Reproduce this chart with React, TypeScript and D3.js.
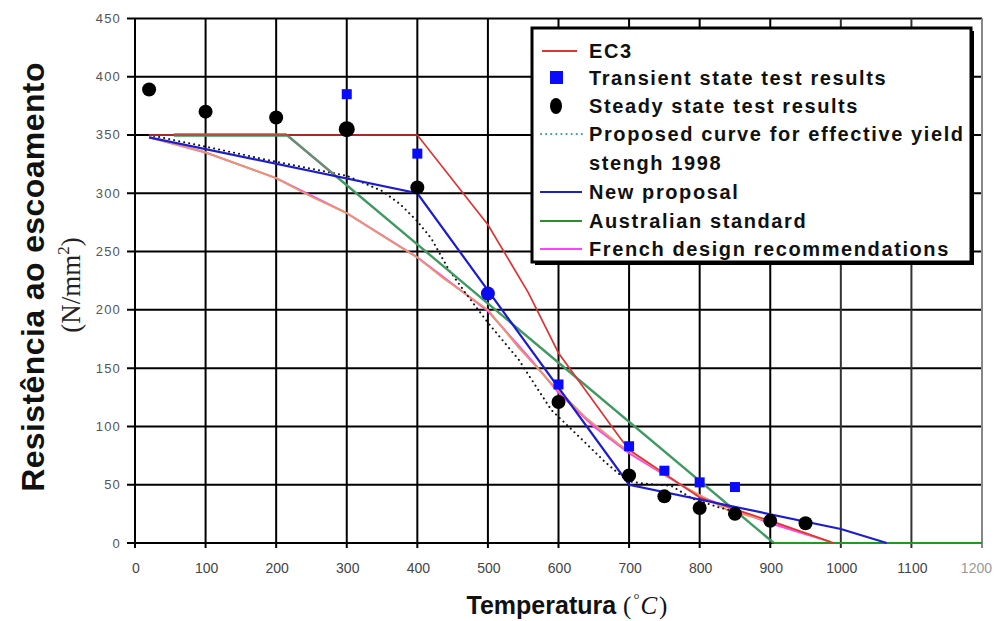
import React from "react";
import * as d3 from "d3";

// Axis ticks
const xTicks = [0, 100, 200, 300, 400, 500, 600, 700, 800, 900, 1000, 1100, 1200];
const yTicks = [0, 50, 100, 150, 200, 250, 300, 350, 400, 450];

// EC3
const ec3Temp = [20, 400, 500, 557, 600, 685, 700, 800, 900, 990];
const ec3Stress = [350, 350, 273, 215, 163, 92, 80, 39, 19, 0];

// Transient state test results
const transientTemp = [300, 400, 600, 700, 750, 800, 850];
const transientStress = [385, 334, 136, 83, 62, 52, 48];

// Steady state test results
const steadyTemp = [20, 100, 200, 300, 400, 600, 700, 750, 800, 850, 900, 950];
const steadyStress = [389, 370, 365, 355, 305, 121, 58, 40, 30, 25, 19, 17];
const steadyBlueTemp = [500];
const steadyBlueStress = [214];

// Proposed curve for effective yield strength 1998
const proposedTemp = [20, 100, 200, 300, 350, 375, 400, 420, 445, 470, 500, 544, 562, 590, 614, 638, 665, 698, 720, 760, 790, 830, 860];
const proposedStress = [350, 340, 327, 315, 302, 291, 276, 261, 234, 213, 189, 157, 140, 114, 100, 86, 70, 53, 51, 49, 38, 30, 26];

// New proposal
const newTemp = [20, 400, 700, 1000, 1065];
const newStress = [348, 300, 50, 12, 0];

// Australian standard
const ausTemp = [55, 215, 905, 1200];
const ausStress = [350, 350, 0, 0];

// French design recommendations
const frenchTemp = [20, 100, 200, 300, 400, 500, 560, 600, 650, 700, 800, 900, 985];
const frenchStress = [348, 335, 313, 283, 245, 199, 158, 129, 100, 77, 40, 17, 1];

// Additional reduction curve
const extraTemp = [20, 100, 200, 250, 300, 360, 400, 435, 500, 543, 590, 638, 685, 713, 770, 840, 910, 985];
const extraStress = [348, 335, 313, 297, 283, 260, 245, 228, 200, 168, 137, 108, 85, 74, 51, 28, 17, 1];

const legendLabels = [
  "EC3",
  "Transient state test results",
  "Steady state test results",
  "Proposed curve for effective yield",
  "stengh 1998",
  "New proposal",
  "Australian standard",
  "French design recommendations",
];

const W = 995;
const H = 621;
const sans = "'Liberation Sans', Arial, Helvetica, sans-serif";
const serif = "'Liberation Serif', 'Times New Roman', serif";

const x = d3.scaleLinear().domain([0, 1200]).range([135, 982]);
const y = d3.scaleLinear().domain([0, 450]).range([543, 18.4]);

const zip = (t: number[], s: number[]) => t.map((v, i) => [v, s[i]] as [number, number]);
const line = d3
  .line<[number, number]>()
  .x((d) => x(d[0]))
  .y((d) => y(d[1]));

export default function App() {
  const gridTop = y(450);
  const gridBottom = y(0);
  const legendX = 532;
  const legendY = 28;
  const legendW = 439;
  const legendH = 234;
  const rowY = [51, 78, 106, 134, 163, 192, 221, 249];
  const textX = 589;

  return (
    <svg
      width={W}
      height={H}
      viewBox={`0 0 ${W} ${H}`}
      style={{ position: "absolute", left: 0, top: 0, background: "#fff" }}
    >
      <rect x={0} y={0} width={W} height={H} fill="#fff" />

      {/* grid */}
      {yTicks.map((t) => (
        <line
          key={"h" + t}
          x1={x(0) - 8}
          x2={x(1200)}
          y1={y(t)}
          y2={y(t)}
          stroke="#000"
          strokeWidth={2}
        />
      ))}
      {xTicks.map((t) => (
        <line
          key={"v" + t}
          x1={x(t)}
          x2={x(t)}
          y1={gridTop}
          y2={gridBottom + 5}
          stroke={t === 1200 ? "#888" : t >= 1000 ? "#333" : "#000"}
          strokeWidth={2}
        />
      ))}

      {/* y tick labels */}
      {yTicks.map((t) => (
        <text
          key={"yl" + t}
          x={121}
          y={y(t) + 4.5}
          textAnchor="end"
          fontFamily={sans}
          fontSize={13}
          letterSpacing={1.2}
          fill="#555"
        >
          {t}
        </text>
      ))}

      {/* x tick labels */}
      {xTicks.map((t) => (
        <text
          key={"xl" + t}
          x={t === 1200 ? 992 : x(t) + 1}
          y={573}
          textAnchor={t === 1200 ? "end" : "middle"}
          fontFamily={sans}
          fontSize={14}
          fill={t === 1200 ? "#999" : "#444"}
        >
          {t}
        </text>
      ))}

      {/* axis titles */}
      <text
        x={567}
        y={614}
        textAnchor="middle"
        fontFamily={sans}
        fontSize={25}
        fontWeight="bold"
        fill="#111"
      >
        Temperatura{" "}
        <tspan fontFamily={serif} fontWeight="normal" fontSize={25}>
          (
        </tspan>
        <tspan fontFamily={serif} fontWeight="normal" fontSize={15} dx={2} dy={-10}>
          °
        </tspan>
        <tspan fontFamily={serif} fontWeight="normal" fontStyle="italic" fontSize={25} dx={1} dy={10}>
          C
        </tspan>
        <tspan fontFamily={serif} fontWeight="normal" fontSize={25} dx={2}>
          )
        </tspan>
      </text>

      <text
        transform="translate(44,277) rotate(-90)"
        textAnchor="middle"
        fontFamily={sans}
        fontSize={32}
        fontWeight="bold"
        letterSpacing={0.4}
        fill="#111"
      >
        Resistência ao escoamento
      </text>
      <text
        transform="translate(80,285) rotate(-90)"
        textAnchor="middle"
        fontFamily={serif}
        fontSize={27}
        fill="#222"
      >
        (N/mm
        <tspan fontSize={17} dy={-11}>
          2
        </tspan>
        <tspan dy={11}>)</tspan>
      </text>

      {/* curves */}
      <path d={line(zip(frenchTemp, frenchStress)) || ""} fill="none" stroke="#ff40ff" strokeWidth={2} />
      <path d={line(zip(extraTemp, extraStress)) || ""} fill="none" stroke="#e69a62" strokeWidth={1.8} />
      <path
        d={line(zip(proposedTemp, proposedStress)) || ""}
        fill="none"
        stroke="#111"
        strokeWidth={2}
        strokeDasharray="0.1 5"
        strokeLinecap="round"
      />
      <path d={line(zip(ausTemp.slice(0, 2), ausStress.slice(0, 2))) || ""} fill="none" stroke="#3a9a5c" strokeWidth={3.5} />
      <path d={line(zip(ausTemp.slice(1, 3), ausStress.slice(1, 3))) || ""} fill="none" stroke="#3f9a60" strokeWidth={2.4} />
      <path
        d={line([[ausTemp[1], ausStress[1]], [285, 350 * (905 - 285) / 690]]) || ""}
        fill="none"
        stroke="#808080"
        strokeWidth={1.6}
      />
      <path d={line(zip(ausTemp.slice(2), ausStress.slice(2))) || ""} fill="none" stroke="#1e9a1e" strokeWidth={2.2} />
      <path d={line(zip(ec3Temp, ec3Stress)) || ""} fill="none" stroke="#e03434" strokeWidth={1.7} />
      <path d={line(zip(newTemp, newStress)) || ""} fill="none" stroke="#1c1cd0" strokeWidth={2.2} />

      {/* steady state markers */}
      {zip(steadyTemp, steadyStress).map(([t, s], i) => (
        <circle key={"c" + i} cx={x(t)} cy={y(s)} r={t === 300 ? 8 : 7} fill="#000" />
      ))}
      {zip(steadyBlueTemp, steadyBlueStress).map(([t, s], i) => (
        <circle key={"cb" + i} cx={x(t)} cy={y(s)} r={7} fill="#0a0aee" />
      ))}

      {/* transient markers */}
      {zip(transientTemp, transientStress).map(([t, s], i) => (
        <rect key={"s" + i} x={x(t) - 5} y={y(s) - 5} width={10} height={10} fill="#0a0aff" />
      ))}

      {/* legend */}
      <rect x={legendX + 3} y={legendY + 3} width={legendW} height={legendH} fill="#000" />
      <rect x={legendX} y={legendY} width={legendW} height={legendH} fill="#fff" stroke="#000" strokeWidth={3} />
      <line x1={542} x2={577} y1={rowY[0]} y2={rowY[0]} stroke="#e03434" strokeWidth={2} />
      <rect x={550} y={rowY[1] - 7} width={13} height={13} fill="#0a0aff" />
      <ellipse cx={556} cy={rowY[2]} rx={6} ry={8} fill="#000" />
      <line
        x1={541}
        x2={582}
        y1={rowY[3]}
        y2={rowY[3]}
        stroke="#2a9a9a"
        strokeWidth={2}
        strokeDasharray="0.1 5"
        strokeLinecap="round"
      />
      <line x1={540} x2={582} y1={rowY[5]} y2={rowY[5]} stroke="#1c1cd0" strokeWidth={2} />
      <line x1={540} x2={582} y1={rowY[6]} y2={rowY[6]} stroke="#2a902a" strokeWidth={2} />
      <line x1={540} x2={582} y1={rowY[7]} y2={rowY[7]} stroke="#ff40ff" strokeWidth={2} />
      {legendLabels.map((lab, i) => (
        <text
          key={"lg" + i}
          x={textX}
          y={rowY[i] + 7}
          fontFamily={sans}
          fontSize={20}
          fontWeight="bold"
          letterSpacing={1.6}
          fill="#111"
        >
          {lab}
        </text>
      ))}
    </svg>
  );
}
